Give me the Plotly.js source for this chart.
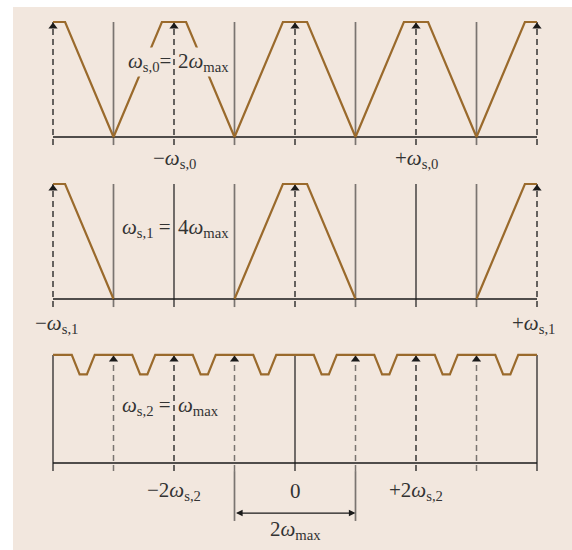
<!DOCTYPE html>
<html><head><meta charset="utf-8">
<script src="https://cdn.plot.ly/plotly-3.0.1.min.js"></script>
<style>html,body{margin:0;padding:0;background:#fff}#chart{width:572px;height:550px}</style>
</head><body><div id="chart"></div>
<script>
// Frequencies in units of ω_max, amplitudes relative
const spec0X = [-4,-3.8,-3,-2.2,-1.8,-1,-0.2,0.2,1,1.8,2.2,3,3.8,4];
const spec0Y = [1,1,0,1,1,0,1,1,0,1,1,0,1,1];
const spec1X = [-4,-3.8,-3,null,-1,-0.2,0.2,1,null,3,3.8,4];
const spec1Y = [1,1,0,null,0,1,1,0,null,0,1,1];
const spec2X = [-4,
  -3.69,-3.56,-3.44,-3.31, -2.69,-2.56,-2.44,-2.31,
  -1.69,-1.56,-1.44,-1.31, -0.69,-0.56,-0.44,-0.31,
  0.31,0.44,0.56,0.69, 1.31,1.44,1.56,1.69,
  2.31,2.44,2.56,2.69, 3.31,3.44,3.56,3.69, 4];
const spec2Y = [0.94,
  0.94,0.77,0.77,0.94, 0.94,0.77,0.77,0.94,
  0.94,0.77,0.77,0.94, 0.94,0.77,0.77,0.94,
  0.94,0.77,0.77,0.94, 0.94,0.77,0.77,0.94,
  0.94,0.77,0.77,0.94, 0.94,0.77,0.77,0.94, 0.94];

// line positions per panel
const p0Dashed = [-4,-2,0,2,4];
const p0Gray = [-3,-1,1,3];
const p1Dashed = [-4,0,4];
const p1Gray = [-3,-1,1,3];
const p1Black = [-2,2];
const p2DashedGray = [-3,-1,1,3];
const p2DashedBlack = [-2,2];
const p2Black = [-4,0,4];
const p2Arrows = [-3,-2,-1,1,2,3];
const p2Span = [-1,1];
const top0 = 1, top1 = 1, top2 = 0.94;

// tick labels
const p0TickPos = [-2,2];
const p0TickText = ['−<i>ω</i><sub>s,0</sub>','+<i>ω</i><sub>s,0</sub>'];
const p1TickPos = [-3.95,3.95];
const p1TickText = ['−<i>ω</i><sub>s,1</sub>','+<i>ω</i><sub>s,1</sub>'];
const p2TickPos = [-2,0,2];
const p2TickText = ['−2<i>ω</i><sub>s,2</sub>','0','+2<i>ω</i><sub>s,2</sub>'];

const BG = '#f2e7de';
const BROWN = '#9a6a2c';
const GRAY = '#7a7470';
const DARK = '#1a1a1a';
const FONT = {family:'"Liberation Serif","Times New Roman",serif', size:21, color:'#333'};
const tickDrop = -0.07;

const shapes = [];
shapes.push({type:'rect', xref:'paper', yref:'paper', x0:13/572, x1:1, y0:0, y1:1-7/550,
  fillcolor:BG, line:{width:0}, layer:'below'});
function vline(x, yref, y0, y1, color, width, dash){
  shapes.push({type:'line', xref:'x', yref:yref, x0:x, x1:x, y0:y0, y1:y1,
    line:{color:color, width:width, dash:dash||'solid'}, layer:'below'});
}
function hline(yref){
  shapes.push({type:'line', xref:'x', yref:yref, x0:-4, x1:4, y0:0, y1:0,
    line:{color:DARK, width:1.6}, layer:'below'});
}
const DASH = '6px,4px';
// panel 0
p0Dashed.forEach(x=>vline(x,'y',tickDrop,top0,DARK,1.3,DASH));
p0Gray.forEach(x=>vline(x,'y',tickDrop,top0,GRAY,1.7));
hline('y');
// panel 1
p1Dashed.forEach(x=>vline(x,'y2',tickDrop,top1,DARK,1.3,DASH));
p1Gray.forEach(x=>vline(x,'y2',tickDrop,top1,GRAY,1.7));
p1Black.forEach(x=>vline(x,'y2',tickDrop,top1,DARK,1.2));
hline('y2');
// panel 2
p2DashedGray.forEach(x=>vline(x,'y3',tickDrop,top2,GRAY,1.5,DASH));
p2DashedBlack.forEach(x=>vline(x,'y3',tickDrop,top2,DARK,1.3,DASH));
p2Black.forEach(x=>vline(x,'y3',tickDrop,top2,DARK,1.2));
p2Span.forEach(x=>vline(x,'y3',tickDrop,-0.504,GRAY,1.7));
hline('y3');

function arrowTrace(xs, top, yaxis){
  return {x:xs, y:xs.map(()=>top-0.04), yaxis:yaxis, mode:'markers', type:'scatter',
    marker:{symbol:'triangle-up', size:8, color:DARK}, hoverinfo:'skip', showlegend:false, cliponaxis:false};
}
const traces = [
  {x:spec0X, y:spec0Y, yaxis:'y', mode:'lines', line:{color:BROWN, width:2.2}, hoverinfo:'skip', showlegend:false},
  {x:spec1X, y:spec1Y, yaxis:'y2', mode:'lines', line:{color:BROWN, width:2.2}, hoverinfo:'skip', showlegend:false, connectgaps:false},
  {x:spec2X, y:spec2Y, yaxis:'y3', mode:'lines', line:{color:BROWN, width:2.2}, hoverinfo:'skip', showlegend:false},
  arrowTrace(p0Dashed, top0, 'y'),
  arrowTrace(p1Dashed, top1, 'y2'),
  arrowTrace(p2Arrows, top2, 'y3')
];

const annotations = [];
function label(x, y, yref, text, xanchor, bg){
  const a = {x:x, y:y, xref:'x', yref:yref, text:text, showarrow:false, font:FONT,
    xanchor:xanchor||'center', yanchor:'middle'};
  if(bg){a.bgcolor = BG; a.borderpad = 1;}
  annotations.push(a);
}
p0TickPos.forEach((x,i)=>label(x,-0.19,'y',p0TickText[i]));
p1TickPos.forEach((x,i)=>label(x,-0.215,'y2',p1TickText[i]));
p2TickPos.forEach((x,i)=>label(x,-0.24,'y3',p2TickText[i]));
label(-2.02, 0.652, 'y', '<i>ω</i><sub>s,0</sub>=', 'right', true);
label(-1.965, 0.652, 'y', '2<i>ω</i><sub>max</sub>', 'left', true);
label(-2.02, 0.617, 'y2', '<i>ω</i><sub>s,1</sub> =', 'right', true);
label(-1.965, 0.617, 'y2', '4<i>ω</i><sub>max</sub>', 'left', true);
label(-2.02, 0.496, 'y3', '<i>ω</i><sub>s,2</sub> =', 'right', true);
label(-1.965, 0.496, 'y3', '<i>ω</i><sub>max</sub>', 'left', true);
label(0, -0.585, 'y3', '2<i>ω</i><sub>max</sub>');
annotations.push({x:p2Span[1], y:-0.435, xref:'x', yref:'y3', ax:p2Span[0], ay:-0.435, axref:'x', ayref:'y3',
  text:'', showarrow:true, arrowside:'end+start', arrowhead:2, arrowsize:1.1, arrowwidth:1.2, arrowcolor:DARK});

const ax = {visible:false, fixedrange:true, showgrid:false, zeroline:false};
const layout = {
  width:572, height:550, margin:{l:0,r:0,t:0,b:0},
  paper_bgcolor:'#ffffff', plot_bgcolor:'rgba(0,0,0,0)',
  xaxis:Object.assign({range:[-295/60.5, 277/60.5]}, ax),
  yaxis:Object.assign({range:[(137-550)/115, 137/115]}, ax),
  yaxis2:Object.assign({range:[(299-550)/115, 299/115], overlaying:'y'}, ax),
  yaxis3:Object.assign({range:[(463-550)/115, 463/115], overlaying:'y'}, ax),
  shapes:shapes, annotations:annotations, showlegend:false
};
Plotly.newPlot('chart', traces, layout, {staticPlot:true, displayModeBar:false});
</script></body></html>
